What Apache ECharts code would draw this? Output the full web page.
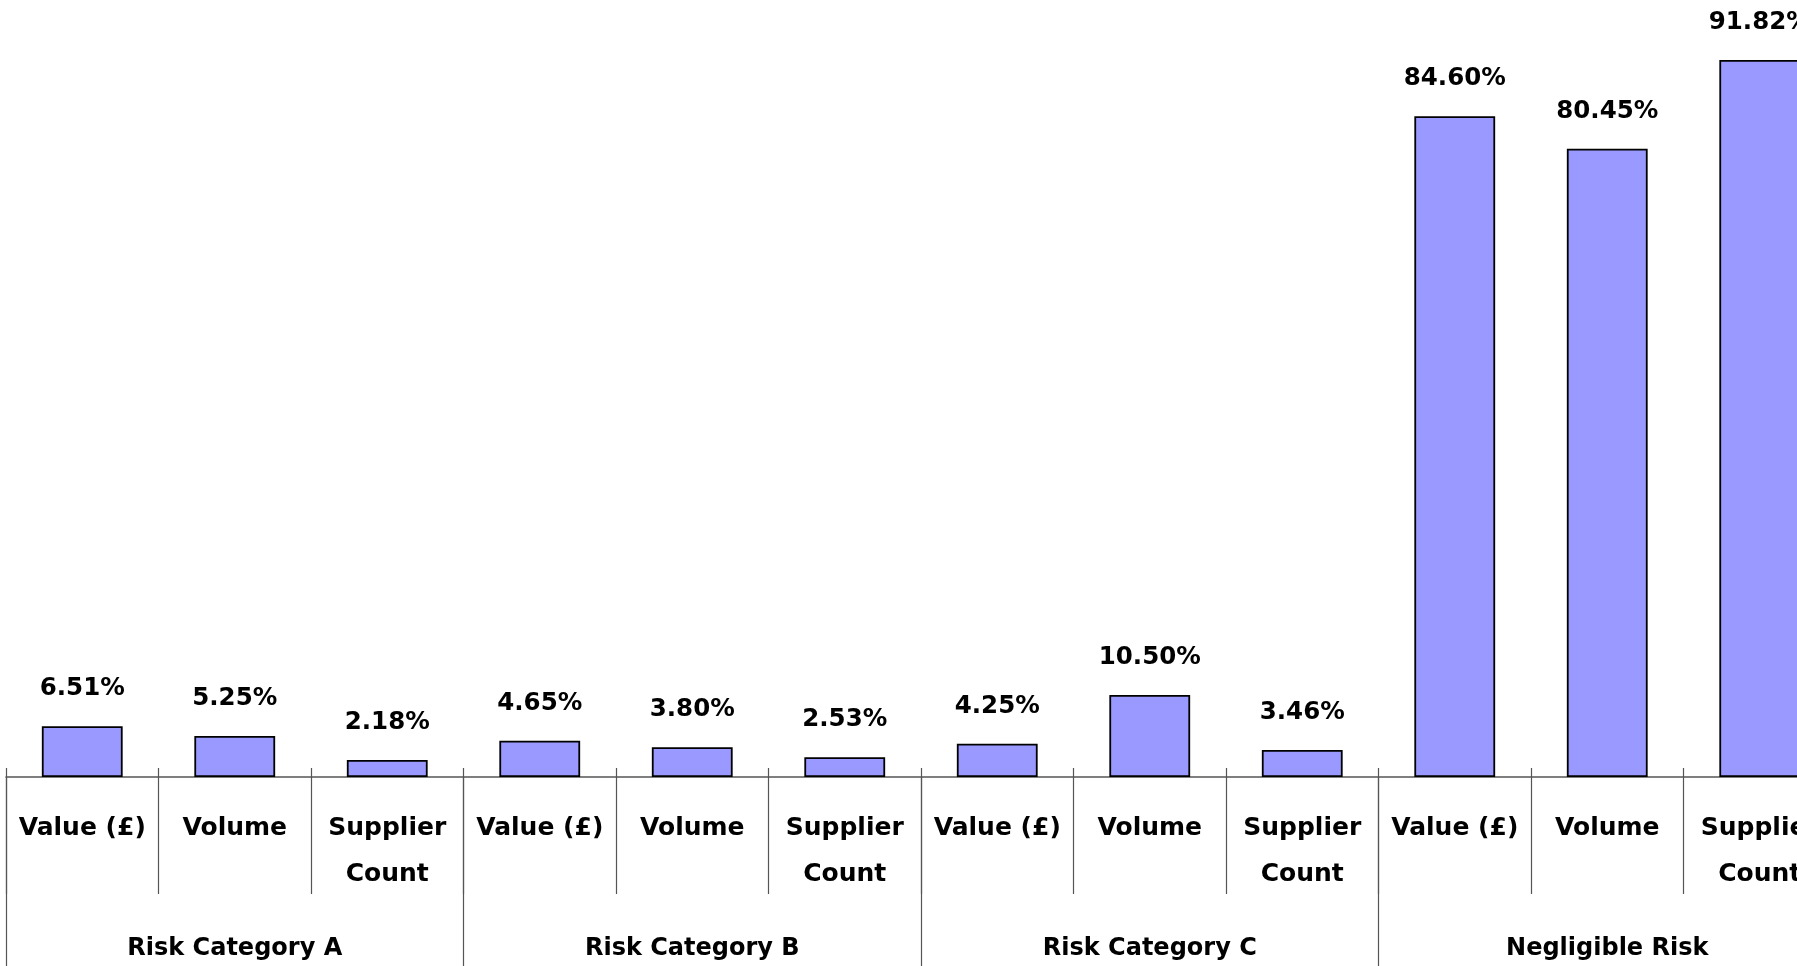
<!DOCTYPE html>
<html lang="en">

<head>
    <meta charset="UTF-8">
    <title>Risk Categories</title>
    <style>
        * {
            padding: 0;
            margin: 0;
            box-sizing: border-box;
        }

        html,
        body {
            width: 100%;
            height: 100%;
            background: #fff;
        }

        #chart-container {
            width: 1797px;
            height: 966px;
        }
    </style>
</head>

<body>
    <div id="chart-container"></div>
</body>

</html>
<script src="https://cdn.jsdelivr.net/npm/echarts@6/dist/echarts.min.js"></script>

<script>
    // 子类别 (每组三个)
    const subCategories = [
        'Value (£)', 'Volume', 'Supplier\nCount',
        'Value (£)', 'Volume', 'Supplier\nCount',
        'Value (£)', 'Volume', 'Supplier\nCount',
        'Value (£)', 'Volume', 'Supplier\nCount'
    ]

    // 分组
    const groups = ['Risk Category A', 'Risk Category B', 'Risk Category C', 'Negligible Risk']

    // 百分比数据
    const percentValues = [
        6.51, 5.25, 2.18,
        4.65, 3.80, 2.53,
        4.25, 10.50, 3.46,
        84.60, 80.45, 91.82
    ]

    const font = "'Comic Sans MS', 'DejaVu Sans', sans-serif"

    var myChart = echarts.init(document.getElementById('chart-container'))

    var option = {
        backgroundColor: '#ffffff',
        animation: false,
        grid: {
            left: 6,
            right: -39,
            top: -4,
            bottom: 189,
            containLabel: false,
            outerBoundsMode: 'none'
        },
        xAxis: [{
                type: 'category',
                data: subCategories,
                position: 'bottom',
                axisLine: {
                    show: true,
                    lineStyle: {
                        color: '#555',
                        width: 1.5
                    }
                },
                axisTick: {
                    show: true,
                    interval: 0,
                    length: 117,
                    lineStyle: {
                        color: '#555',
                        width: 1.2
                    }
                },
                axisLabel: {
                    interval: 0,
                    margin: 28,
                    color: '#000',
                    fontFamily: font,
                    fontWeight: 'bold',
                    fontSize: 25,
                    lineHeight: 46
                }
            },
            {
                type: 'category',
                data: groups,
                position: 'bottom',
                axisLine: {
                    show: false
                },
                axisTick: {
                    show: true,
                    interval: 0,
                    length: 200,
                    lineStyle: {
                        color: '#555',
                        width: 1.2
                    }
                },
                axisLabel: {
                    interval: 0,
                    margin: 158,
                    color: '#000',
                    fontFamily: font,
                    fontWeight: 'bold',
                    fontSize: 24,
                    lineHeight: 28
                }
            },
            {
                // 轴线上方的短刻度
                type: 'category',
                data: subCategories,
                position: 'bottom',
                axisLine: {
                    show: false
                },
                axisTick: {
                    show: true,
                    inside: true,
                    interval: 0,
                    length: 9,
                    lineStyle: {
                        color: '#555',
                        width: 1.2
                    }
                },
                axisLabel: {
                    show: false
                }
            }
        ],
        yAxis: {
            type: 'value',
            show: false,
            min: 0,
            max: 100,
            splitLine: {
                show: false
            }
        },
        series: [{
            type: 'bar',
            xAxisIndex: 0,
            data: percentValues,
            barWidth: '53%',
            itemStyle: {
                color: '#9999ff',
                borderColor: '#000',
                borderWidth: 1.8
            },
            label: {
                show: true,
                position: 'top',
                distance: 25,
                color: '#000',
                fontFamily: font,
                fontWeight: 'bold',
                fontSize: 24.5,
                formatter: function (p) {
                    return p.value.toFixed(2) + '%'
                }
            }
        }]
    }

    myChart.setOption(option)
</script>
